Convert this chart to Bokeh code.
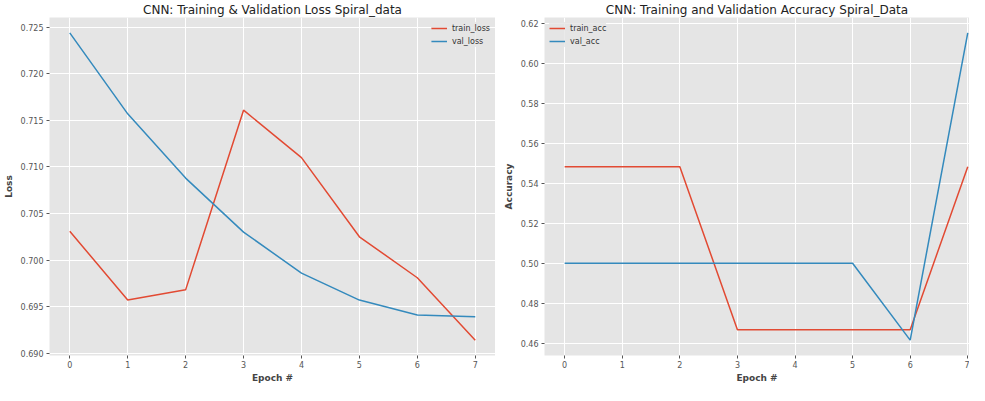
from bokeh.plotting import figure
from bokeh.layouts import row
from bokeh.models import Range1d, FixedTicker, NumeralTickFormatter, Legend, LegendItem
from bokeh.embed import file_html
from bokeh.resources import INLINE

epochs = [0, 1, 2, 3, 4, 5, 6, 7]
train_loss = [0.7031, 0.6957, 0.6968, 0.7161, 0.7110, 0.7025, 0.6981, 0.6914]
val_loss = [0.7244, 0.7157, 0.7088, 0.7030, 0.6986, 0.6957, 0.6941, 0.6939]
train_acc = [0.5484, 0.5484, 0.5484, 0.4667, 0.4667, 0.4667, 0.4667, 0.5484]
val_acc = [0.5000, 0.5000, 0.5000, 0.5000, 0.5000, 0.5000, 0.4615, 0.6154]

loss_ticks = [0.690, 0.695, 0.700, 0.705, 0.710, 0.715, 0.720, 0.725]
acc_ticks = [0.46, 0.48, 0.50, 0.52, 0.54, 0.56, 0.58, 0.60, 0.62]

RED = "#E24A33"
BLUE = "#348ABD"
BG = "#E5E5E5"
TXT = "#555555"
FONT = "DejaVu Sans"


def style(p, title, ylabel, yticks, yfmt):
    p.title.text = title
    p.title.text_font = FONT
    p.title.text_font_size = "12px"
    p.title.text_font_style = "normal"
    p.title.text_color = "#222222"
    p.title.align = "center"
    p.title.standoff = 1
    p.title.offset = 0
    p.background_fill_color = BG
    p.border_fill_color = "white"
    p.outline_line_color = None
    for ax in (p.xaxis[0], p.yaxis[0]):
        ax.axis_line_color = None
        ax.major_tick_line_color = TXT
        ax.major_tick_in = 0
        ax.major_tick_out = 3
        ax.minor_tick_line_color = None
        ax.major_label_text_font = FONT
        ax.major_label_text_font_size = "8px"
        ax.major_label_text_color = TXT
        ax.major_label_standoff = 3
        ax.axis_label_text_font = FONT
        ax.axis_label_text_font_size = "9px"
        ax.axis_label_text_font_style = "bold"
        ax.axis_label_text_color = "#444444"
        ax.axis_label_standoff = 4
    p.xaxis[0].axis_label = "Epoch #"
    p.xaxis[0].axis_label_standoff = 2
    p.xaxis[0].major_label_standoff = 2
    p.yaxis[0].axis_label = ylabel
    p.xaxis[0].ticker = FixedTicker(ticks=epochs)
    p.yaxis[0].ticker = FixedTicker(ticks=yticks)
    p.yaxis[0].formatter = NumeralTickFormatter(format=yfmt)
    p.grid.grid_line_color = "white"
    p.grid.grid_line_width = 1
    p.grid.minor_grid_line_color = None


H = 385

# Left: Loss
p1 = figure(width=495, height=H, output_backend="svg", toolbar_location=None,
            x_range=Range1d(-0.35, 7.35), y_range=Range1d(0.68975, 0.72605),
            min_border_left=45, min_border_right=0, min_border_top=14, min_border_bottom=26)
style(p1, "CNN: Training & Validation Loss Spiral_data", "Loss", loss_ticks, "0.000")
r1 = p1.line(epochs, train_loss, line_color=RED, line_width=1.5)
r2 = p1.line(epochs, val_loss, line_color=BLUE, line_width=1.5)
leg1 = Legend(items=[LegendItem(label="train_loss", renderers=[r1]),
                     LegendItem(label="val_loss", renderers=[r2])],
              location="top_right")
p1.add_layout(leg1, "center")

# Right: Accuracy (its right edge is cut off, as in the source picture)
p2 = figure(width=474, height=H, output_backend="svg", toolbar_location=None,
            x_range=Range1d(-0.35, 7.03), y_range=Range1d(0.4538, 0.6231),
            min_border_left=49, min_border_right=0, min_border_top=14, min_border_bottom=26)
style(p2, "CNN: Training and Validation Accuracy Spiral_Data", "Accuracy", acc_ticks, "0.00")
r3 = p2.line(epochs, train_acc, line_color=RED, line_width=1.5)
r4 = p2.line(epochs, val_acc, line_color=BLUE, line_width=1.5)
leg2 = Legend(items=[LegendItem(label="train_acc", renderers=[r3]),
                     LegendItem(label="val_acc", renderers=[r4])],
              location="top_left")
p2.add_layout(leg2, "center")

for lg in (leg1, leg2):
    lg.background_fill_color = BG
    lg.background_fill_alpha = 0.8
    lg.border_line_color = None
    lg.label_text_font = FONT
    lg.label_text_font_size = "8px"
    lg.label_text_color = "#333333"
    lg.glyph_width = 16
    lg.glyph_height = 12
    lg.label_height = 12
    lg.label_standoff = 5
    lg.spacing = 1
    lg.padding = 3
    lg.margin = 5

layout = row(p1, p2)
open("out.html", "w").write(file_html(layout, INLINE))
